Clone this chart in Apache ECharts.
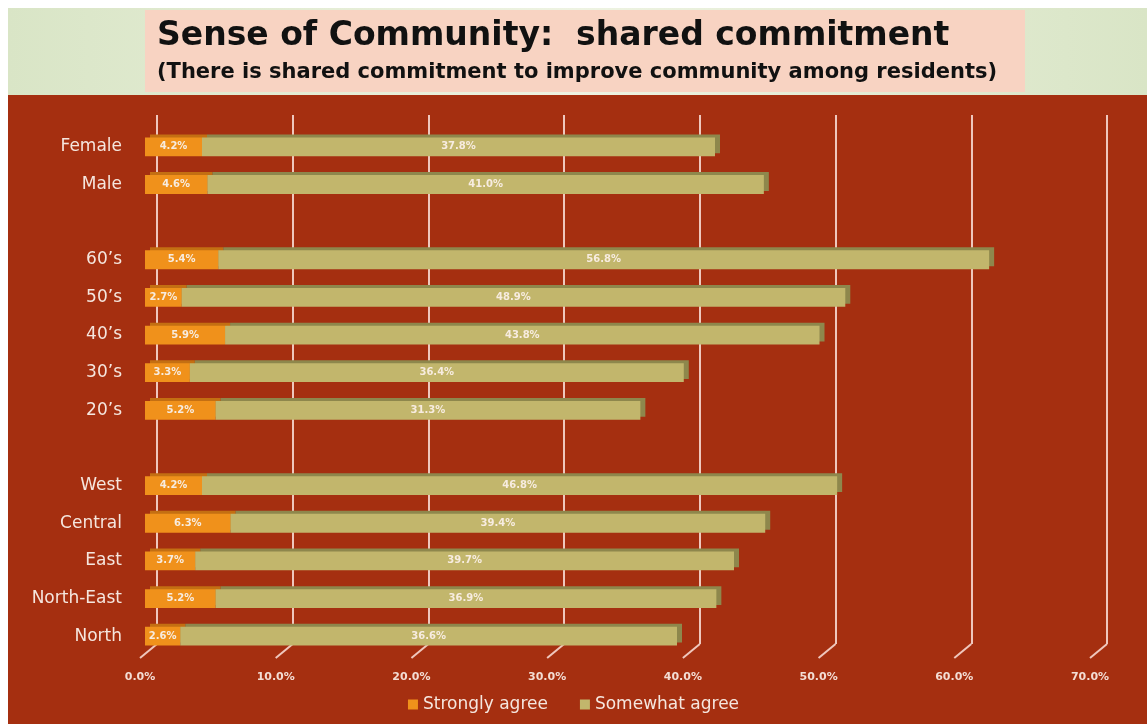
<!DOCTYPE html>
<html><head><meta charset="utf-8">
<script src="https://cdn.jsdelivr.net/npm/echarts@6/dist/echarts.min.js"></script>
<style>html,body{margin:0;padding:0;background:#fff}#c{width:1147px;height:724px}</style>
</head><body><div id="c"></div>
<script>
const categories = ['Female','Male','','60\u2019s','50\u2019s','40\u2019s','30\u2019s','20\u2019s',' ','West','Central','East','North-East','North'];
const stronglyAgree = [4.2,4.6,null,5.4,2.7,5.9,3.3,5.2,null,4.2,6.3,3.7,5.2,2.6];
const somewhatAgree = [37.8,41.0,null,56.8,48.9,43.8,36.4,31.3,null,46.8,39.4,39.7,36.9,36.6];
const xTicks = [0,10,20,30,40,50,60,70];
const titleText = 'Sense of Community:  shared commitment';
const subtitleText = '(There is shared commitment to improve community among residents)';

const chart = echarts.init(document.getElementById('c'));
const lbl = {show:true, position:'inside', color:'#f7ece0', fontSize:10, fontWeight:'bold', fontFamily:'DejaVu Sans',
  formatter: p => p.value == null ? '' : p.value.toFixed(1) + '%'};
chart.setOption({
  animation:false,
  backgroundColor:'#ffffff',
  graphic:[
    {type:'rect', z:-10, shape:{x:8,y:8,width:1139,height:87},
      style:{fill:new echarts.graphic.LinearGradient(0,0,1,0,[{offset:0,color:'#d9e5c6'},{offset:0.5,color:'#eef3e2'},{offset:1,color:'#d9e5c6'}])}},
    {type:'rect', z:-9, shape:{x:145,y:10,width:880,height:82}, style:{fill:'#f8d3c2'}},
    {type:'rect', z:-10, shape:{x:8,y:95,width:1139,height:629}, style:{fill:'#a52f10'}},
    {type:'text', z:10, x:157, y:20, style:{text:titleText, font:'bold 33px "DejaVu Sans"', fill:'#111'}},
    {type:'text', z:10, x:157, y:62, style:{text:subtitleText, font:'bold 21px "DejaVu Sans"', fill:'#111'}}
  ],
  legend:{bottom:6, left:'center', itemWidth:10, itemHeight:10, itemGap:32, icon:'rect',
    textStyle:{color:'#f5e6de', fontSize:17, fontFamily:'DejaVu Sans'},
    data:['Strongly agree','Somewhat agree']},
  grid:[
    {left:145, right:52, top:128, bottom:69},
    {left:157, right:40, top:115, bottom:80}
  ],
  xAxis:[
    {type:'value', gridIndex:0, min:0, max:70, interval:10,
      axisLine:{show:false}, axisTick:{show:false}, splitLine:{show:false},
      axisLabel:{margin:17, color:'#f3ddd4', fontSize:11, fontWeight:'bold', fontFamily:'DejaVu Sans', padding:[0,10,0,0],
        formatter:v => v.toFixed(1) + '%'}},
    {type:'value', gridIndex:1, min:0, max:70, interval:10,
      axisLine:{show:false}, axisTick:{show:false}, axisLabel:{show:false},
      splitLine:{show:true, lineStyle:{color:'#efc7bd', width:2}}}
  ],
  yAxis:[
    {type:'category', gridIndex:0, data:categories, inverse:true,
      axisLine:{show:false}, axisTick:{show:false},
      axisLabel:{margin:23, color:'#f5e6de', fontSize:17, fontFamily:'DejaVu Sans'}},
    {type:'value', gridIndex:1, min:0, max:1, show:false}
  ],
  series:[
    {type:'custom', xAxisIndex:1, yAxisIndex:1, silent:true, z:1,
      data:xTicks.map(v => [v,0]),
      renderItem:(params, api) => {
        const p = api.coord([api.value(0), 0]);
        return {type:'line', shape:{x1:p[0], y1:p[1], x2:p[0]-17, y2:p[1]+14},
          style:{stroke:'#efc7bd', lineWidth:2}};
      }},
    {name:'Strongly agree', type:'bar', stack:'t', xAxisIndex:0, yAxisIndex:0, data:stronglyAgree,
      barCategoryGap:'50%', z:3,
      itemStyle:{color:'#f0911b', shadowColor:'#c46f12', shadowOffsetX:5, shadowOffsetY:-3, shadowBlur:0},
      label:lbl},
    {name:'Somewhat agree', type:'bar', stack:'t', xAxisIndex:0, yAxisIndex:0, data:somewhatAgree,
      barCategoryGap:'50%', z:3,
      itemStyle:{color:'#c2b66c', shadowColor:'#8e874c', shadowOffsetX:5, shadowOffsetY:-3, shadowBlur:0},
      label:lbl}
  ]
});
</script></body></html>
